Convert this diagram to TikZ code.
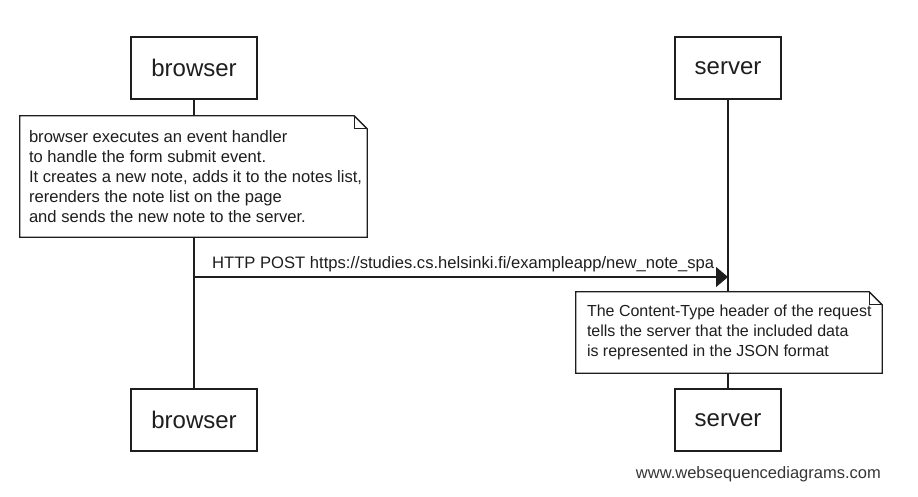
\documentclass[tikz,border=0pt]{standalone}
\usepackage{fontspec}
\setmainfont{Liberation Sans}
\usetikzlibrary{arrows.meta}
\definecolor{ink}{HTML}{1E1E1E}
\begin{document}
\begin{tikzpicture}[x=1pt,y=-1pt,
  actor/.style={draw=ink, line width=1.3pt, fill=white, minimum height=62pt,
    inner sep=0pt, text=ink, font=\fontsize{24}{28}\selectfont},
  lifeline/.style={draw=ink, line width=1.3pt},
  notebox/.style={draw=none, inner sep=0pt},
  noteshape/.style={draw=ink, line width=1.3pt, fill=white, line join=miter},
  notefold/.style={draw=ink, line width=0.9pt},
  notetext/.style={anchor=west, align=left, inner sep=0pt, text=ink,
    font=\fontsize{16.3}{20}\selectfont},
  msg/.style={draw=ink, line width=1.3pt, -{Triangle[length=12pt,width=20pt]}},
  msglabel/.style={anchor=base west, inner sep=0pt, text=ink,
    font=\fontsize{16.6}{20}\selectfont},
  wmark/.style={anchor=east, inner sep=0pt, text=ink!90,
    font=\fontsize{16.5}{20}\selectfont}
]
\useasboundingbox (0,0) rectangle (918,497);

% participants
\node[actor, minimum width=126pt] (bt) at (194,68) {browser};
\node[actor, minimum width=106pt] (st) at (728,68) {server};
\node[actor, minimum width=126pt] (bb) at (194,420) {browser};
\node[actor, minimum width=106pt] (sb) at (728,420) {server};

% lifelines
\draw[lifeline] (bt.south) -- (bb.north);
\draw[lifeline] (st.south) -- (sb.north);

% browser note
\node[notebox, minimum width=347pt, minimum height=121pt] (n1) at (193.5,176.5) {};
\draw[noteshape] (n1.north west) -- ([xshift=-13pt]n1.north east) -- ([yshift=-13pt]n1.north east)
  -- (n1.south east) -- (n1.south west) -- cycle;
\draw[notefold] ([xshift=-13pt]n1.north east) |- ([yshift=-13pt]n1.north east);
\node[notetext, font=\fontsize{16.6}{20}\selectfont] (n1t) at ([xshift=9pt]n1.west) {browser executes an event handler\\
to handle the form submit event.\\
It creates a new note, adds it to the notes list,\\
rerenders the note list on the page\\
and sends the new note to the server.};

% message
\coordinate (ay) at (0,277);
\draw[msg] (bt.south |- ay) -- (st.south |- ay);
\node[msglabel] (ml) at (212,268) {HTTP POST https://studies.cs.helsinki.fi/exampleapp/new\_note\_spa};

% server note
\node[notebox, minimum width=306pt, minimum height=81pt] (n2) at (729,332.5) {};
\draw[noteshape] (n2.north west) -- ([xshift=-13pt]n2.north east) -- ([yshift=-13pt]n2.north east)
  -- (n2.south east) -- (n2.south west) -- cycle;
\draw[notefold] ([xshift=-13pt]n2.north east) |- ([yshift=-13pt]n2.north east);
\node[notetext, font=\fontsize{16.0}{20}\selectfont] (n2t) at ([xshift=11pt]n2.west) {The Content-Type header of the request\\
tells the server that the included data\\
is represented in the JSON format};

% watermark
\node[wmark] (wm) at (881,474) {www.websequencediagrams.com};
\end{tikzpicture}
\end{document}
